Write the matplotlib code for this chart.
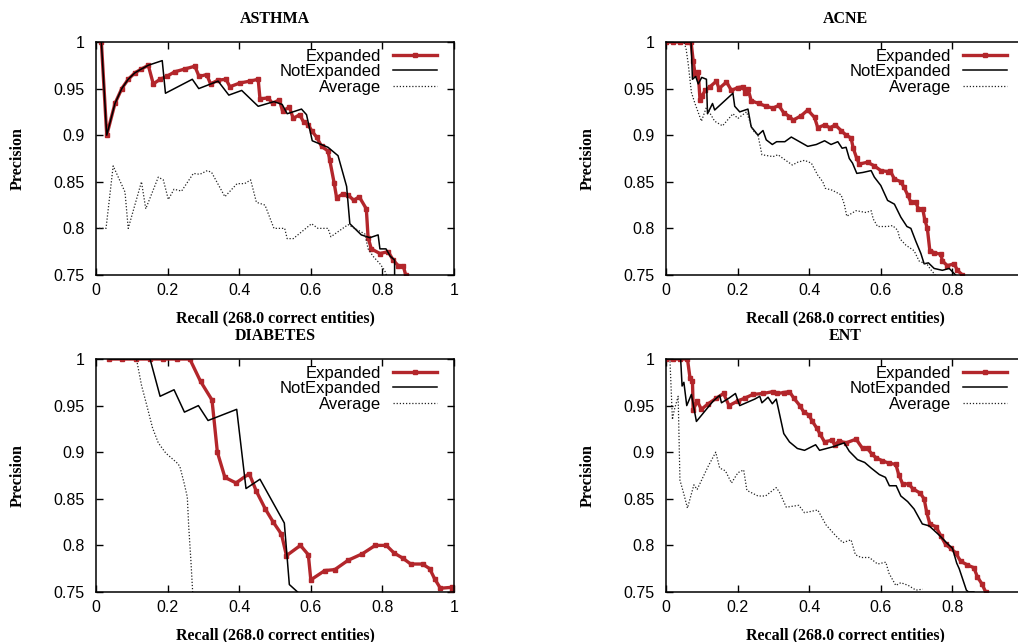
import numpy as np
import matplotlib
matplotlib.use("Agg")
import matplotlib.pyplot as plt

# ---- data (recall, precision) ----
asthma_exp_x = [0.015, 0.03, 0.053, 0.072, 0.09, 0.109, 0.127, 0.146, 0.16, 0.179, 0.197, 0.22, 0.248,
                0.276, 0.288, 0.309, 0.32, 0.341, 0.363, 0.374, 0.402, 0.43, 0.453, 0.458, 0.481, 0.493,
                0.512, 0.521, 0.54, 0.551, 0.569, 0.58, 0.593, 0.602, 0.616, 0.63, 0.648, 0.653, 0.665,
                0.672, 0.69, 0.704, 0.72, 0.735, 0.755, 0.76, 0.769, 0.793, 0.816, 0.83, 0.844, 0.858, 0.865]
asthma_exp_y = [1.0, 0.9, 0.934, 0.95, 0.96, 0.967, 0.971, 0.975, 0.955, 0.96, 0.963, 0.968, 0.971,
                0.974, 0.963, 0.965, 0.955, 0.959, 0.96, 0.952, 0.956, 0.958, 0.96, 0.939, 0.94, 0.934,
                0.938, 0.926, 0.93, 0.918, 0.922, 0.914, 0.911, 0.905, 0.898, 0.888, 0.883, 0.873, 0.849,
                0.833, 0.837, 0.836, 0.83, 0.834, 0.821, 0.79, 0.778, 0.773, 0.775, 0.766, 0.76, 0.76, 0.75]
asthma_not_x = [0.015, 0.03, 0.053, 0.072, 0.09, 0.109, 0.127, 0.146, 0.185, 0.194, 0.269, 0.287, 0.341,
                0.371, 0.407, 0.453, 0.497, 0.52, 0.534, 0.574, 0.588, 0.604, 0.648, 0.676, 0.7, 0.709,
                0.741, 0.765, 0.788, 0.793, 0.81, 0.822, 0.834, 0.834]
asthma_not_y = [1.0, 0.9, 0.934, 0.95, 0.96, 0.967, 0.971, 0.975, 0.98, 0.945, 0.96, 0.95, 0.958,
                0.943, 0.948, 0.931, 0.936, 0.933, 0.923, 0.928, 0.922, 0.894, 0.887, 0.878, 0.845, 0.805,
                0.793, 0.79, 0.793, 0.778, 0.778, 0.77, 0.766, 0.75]
asthma_avg_x = [0.0, 0.028, 0.048, 0.081, 0.09, 0.127, 0.139, 0.174, 0.188, 0.202, 0.218, 0.239, 0.272,
                0.29, 0.311, 0.323, 0.36, 0.394, 0.415, 0.432, 0.448, 0.472, 0.497, 0.527, 0.534, 0.551,
                0.602, 0.62, 0.648, 0.656, 0.704, 0.751, 0.76, 0.774, 0.793, 0.806, 0.811]
asthma_avg_y = [0.8, 0.8, 0.867, 0.839, 0.8, 0.85, 0.821, 0.855, 0.852, 0.831, 0.842, 0.84, 0.859,
                0.858, 0.862, 0.86, 0.834, 0.848, 0.848, 0.852, 0.828, 0.825, 0.8, 0.8, 0.789, 0.789,
                0.805, 0.8, 0.8, 0.791, 0.804, 0.794, 0.778, 0.77, 0.762, 0.755, 0.75]

acne_exp_x = [0.0, 0.02, 0.04, 0.06, 0.07, 0.076, 0.081, 0.09, 0.095, 0.1, 0.11, 0.123, 0.141, 0.148,
              0.169, 0.183, 0.2, 0.215, 0.222, 0.229, 0.238, 0.259, 0.28, 0.299, 0.315, 0.329, 0.345,
              0.355, 0.378, 0.396, 0.415, 0.424, 0.443, 0.458, 0.473, 0.489, 0.503, 0.517, 0.523, 0.533,
              0.54, 0.563, 0.582, 0.6, 0.619, 0.626, 0.638, 0.656, 0.665, 0.675, 0.684, 0.698, 0.705,
              0.717, 0.723, 0.73, 0.737, 0.749, 0.768, 0.772, 0.786, 0.805, 0.814, 0.828]
acne_exp_y = [1.0, 1.0, 1.0, 1.0, 1.0, 0.98, 0.966, 0.968, 0.938, 0.942, 0.948, 0.952, 0.958, 0.95,
              0.957, 0.948, 0.951, 0.952, 0.945, 0.95, 0.937, 0.934, 0.931, 0.929, 0.932, 0.924, 0.92,
              0.916, 0.921, 0.927, 0.919, 0.908, 0.911, 0.908, 0.911, 0.905, 0.9, 0.897, 0.886, 0.875,
              0.869, 0.871, 0.867, 0.862, 0.861, 0.862, 0.853, 0.85, 0.844, 0.836, 0.828, 0.828, 0.821,
              0.821, 0.809, 0.8, 0.776, 0.774, 0.772, 0.765, 0.76, 0.762, 0.755, 0.75]
acne_not_x = [0.0, 0.07, 0.074, 0.083, 0.09, 0.1, 0.113, 0.116, 0.13, 0.136, 0.187, 0.192, 0.206, 0.229,
              0.238, 0.257, 0.271, 0.28, 0.297, 0.309, 0.332, 0.35, 0.373, 0.396, 0.42, 0.443, 0.461,
              0.48, 0.492, 0.503, 0.512, 0.521, 0.533, 0.55, 0.573, 0.582, 0.6, 0.619, 0.638, 0.656,
              0.673, 0.684, 0.698, 0.712, 0.721, 0.733, 0.749, 0.772, 0.791, 0.809]
acne_not_y = [1.0, 1.0, 0.96, 0.963, 0.955, 0.962, 0.96, 0.923, 0.934, 0.927, 0.945, 0.931, 0.925, 0.928,
              0.909, 0.9, 0.905, 0.895, 0.89, 0.893, 0.893, 0.898, 0.893, 0.888, 0.89, 0.894, 0.89,
              0.893, 0.886, 0.887, 0.875, 0.87, 0.859, 0.86, 0.862, 0.855, 0.846, 0.83, 0.826, 0.812,
              0.802, 0.8, 0.786, 0.773, 0.762, 0.763, 0.757, 0.755, 0.757, 0.75]
acne_avg_x = [0.0, 0.05, 0.056, 0.062, 0.071, 0.081, 0.099, 0.113, 0.136, 0.158, 0.187, 0.201, 0.225,
              0.243, 0.257, 0.268, 0.299, 0.313, 0.327, 0.353, 0.368, 0.387, 0.406, 0.424, 0.438, 0.445,
              0.464, 0.489, 0.498, 0.505, 0.531, 0.559, 0.573, 0.579, 0.591, 0.619, 0.633, 0.647, 0.653,
              0.67, 0.693, 0.707, 0.73, 0.739, 0.752]
acne_avg_y = [1.0, 1.0, 0.993, 0.977, 0.946, 0.934, 0.915, 0.93, 0.915, 0.91, 0.923, 0.918, 0.925,
              0.905, 0.9, 0.879, 0.877, 0.879, 0.875, 0.868, 0.871, 0.873, 0.87, 0.857, 0.85, 0.843,
              0.841, 0.836, 0.826, 0.813, 0.819, 0.817, 0.819, 0.81, 0.802, 0.802, 0.803, 0.798, 0.789,
              0.782, 0.776, 0.765, 0.761, 0.756, 0.75]

diab_exp_x = [0.037, 0.074, 0.113, 0.151, 0.188, 0.225, 0.262, 0.292, 0.324, 0.339, 0.36, 0.391, 0.428,
              0.448, 0.473, 0.495, 0.518, 0.532, 0.571, 0.593, 0.6, 0.639, 0.667, 0.704, 0.744, 0.78,
              0.811, 0.832, 0.858, 0.879, 0.912, 0.932, 0.946, 0.962, 0.993, 0.993]
diab_exp_y = [1.0, 1.0, 1.0, 1.0, 1.0, 1.0, 1.0, 0.976, 0.956, 0.9, 0.873, 0.867, 0.877,
              0.858, 0.839, 0.825, 0.812, 0.789, 0.8, 0.79, 0.763, 0.773, 0.774, 0.784, 0.791, 0.8,
              0.8, 0.792, 0.786, 0.78, 0.78, 0.775, 0.764, 0.754, 0.755, 0.75]
diab_not_x = [0.037, 0.151, 0.179, 0.218, 0.247, 0.286, 0.313, 0.393, 0.419, 0.458, 0.526, 0.54, 0.563]
diab_not_y = [1.0, 1.0, 0.96, 0.967, 0.943, 0.95, 0.934, 0.946, 0.861, 0.871, 0.824, 0.758, 0.75]
diab_avg_x = [0.037, 0.113, 0.127, 0.14, 0.158, 0.174, 0.195, 0.225, 0.234, 0.246, 0.255, 0.259, 0.265, 0.27]
diab_avg_y = [1.0, 1.0, 0.972, 0.953, 0.926, 0.91, 0.899, 0.889, 0.885, 0.867, 0.852, 0.82, 0.784, 0.75]

ent_exp_x = [0.0, 0.02, 0.04, 0.06, 0.067, 0.074, 0.076, 0.087, 0.099, 0.118, 0.141, 0.161, 0.176, 0.201,
             0.22, 0.243, 0.271, 0.299, 0.311, 0.329, 0.345, 0.357, 0.374, 0.385, 0.399, 0.409, 0.421,
             0.431, 0.443, 0.464, 0.471, 0.484, 0.503, 0.531, 0.549, 0.563, 0.575, 0.587, 0.603, 0.624,
             0.642, 0.65, 0.661, 0.678, 0.689, 0.71, 0.721, 0.728, 0.737, 0.754, 0.768, 0.781, 0.795,
             0.809, 0.823, 0.842, 0.86, 0.87, 0.882, 0.893]
ent_exp_y = [1.0, 1.0, 1.0, 1.0, 0.98, 0.976, 0.945, 0.955, 0.946, 0.952, 0.958, 0.963, 0.95, 0.955,
             0.958, 0.962, 0.963, 0.965, 0.963, 0.964, 0.965, 0.958, 0.95, 0.943, 0.94, 0.933, 0.926,
             0.919, 0.911, 0.913, 0.908, 0.912, 0.91, 0.914, 0.904, 0.904, 0.898, 0.894, 0.891, 0.888,
             0.887, 0.876, 0.866, 0.866, 0.861, 0.856, 0.85, 0.836, 0.823, 0.82, 0.81, 0.801, 0.797,
             0.792, 0.783, 0.779, 0.776, 0.766, 0.759, 0.75]
ent_not_x = [0.0, 0.041, 0.045, 0.05, 0.058, 0.071, 0.085, 0.1, 0.132, 0.15, 0.155, 0.176, 0.194, 0.206,
             0.248, 0.262, 0.268, 0.285, 0.297, 0.308, 0.316, 0.329, 0.345, 0.367, 0.387, 0.418, 0.429,
             0.468, 0.498, 0.512, 0.535, 0.555, 0.573, 0.596, 0.613, 0.624, 0.643, 0.656, 0.675, 0.693,
             0.716, 0.735, 0.763, 0.786, 0.8, 0.812, 0.819, 0.839, 0.845, 0.86]
ent_not_y = [1.0, 1.0, 0.971, 0.975, 0.95, 0.962, 0.933, 0.94, 0.955, 0.961, 0.953, 0.958, 0.963, 0.95,
             0.957, 0.96, 0.953, 0.959, 0.952, 0.957, 0.943, 0.92, 0.911, 0.904, 0.902, 0.908, 0.902,
             0.906, 0.91, 0.901, 0.892, 0.889, 0.883, 0.876, 0.873, 0.864, 0.864, 0.853, 0.847, 0.839,
             0.823, 0.821, 0.811, 0.802, 0.797, 0.781, 0.775, 0.752, 0.75, 0.75]
ent_avg_x = [0.0, 0.011, 0.018, 0.023, 0.034, 0.039, 0.05, 0.06, 0.078, 0.087, 0.118, 0.139, 0.15, 0.166,
             0.183, 0.201, 0.217, 0.226, 0.257, 0.278, 0.308, 0.317, 0.336, 0.371, 0.387, 0.424, 0.447,
             0.475, 0.494, 0.517, 0.529, 0.545, 0.568, 0.591, 0.614, 0.623, 0.642, 0.656, 0.677, 0.698, 0.717]
ent_avg_y = [1.0, 1.0, 0.935, 0.945, 0.96, 0.87, 0.855, 0.84, 0.865, 0.86, 0.885, 0.9, 0.883, 0.88,
             0.867, 0.878, 0.881, 0.859, 0.853, 0.853, 0.862, 0.857, 0.841, 0.843, 0.835, 0.838, 0.822,
             0.81, 0.803, 0.806, 0.79, 0.787, 0.787, 0.78, 0.782, 0.77, 0.757, 0.76, 0.757, 0.752, 0.753]

x_ticklabels = ["0", "0.2", "0.4", "0.6", "0.8", "1"]
y_ticklabels = ["0.75", "0.8", "0.85", "0.9", "0.95", "1"]

panels = [
    ("ASTHMA", asthma_exp_x, asthma_exp_y, asthma_not_x, asthma_not_y, asthma_avg_x, asthma_avg_y),
    ("ACNE", acne_exp_x, acne_exp_y, acne_not_x, acne_not_y, acne_avg_x, acne_avg_y),
    ("DIABETES", diab_exp_x, diab_exp_y, diab_not_x, diab_not_y, diab_avg_x, diab_avg_y),
    ("ENT", ent_exp_x, ent_exp_y, ent_not_x, ent_not_y, ent_avg_x, ent_avg_y),
]

# axes boxes in figure fractions (right column runs off the page, like the source)
boxes = [
    [0.0943, 0.5717, 0.3517, 0.3629],
    [0.6542, 0.5717, 0.3517, 0.3629],
    [0.0943, 0.0779, 0.3517, 0.3629],
    [0.6542, 0.0779, 0.3517, 0.3629],
]

red = "#b3262b"
sans = ["Liberation Sans", "DejaVu Sans"]
serif = ["Liberation Serif", "DejaVu Serif"]
fs = 11.5

fig = plt.figure(figsize=(10.18, 6.42), dpi=100)

for (name, ex, ey, nx, ny, ax_, ay), box in zip(panels, boxes):
    right_col = box[0] > 0.5
    ax = fig.add_axes(box)
    ax.plot(ex, ey, color=red, lw=2.4, marker="s", ms=2.6, mec=red, mfc=red, label="Expanded")
    ax.plot(nx, ny, color="black", lw=1.1, label="NotExpanded")
    ax.plot(ax_, ay, color="#222222", lw=0.9, ls=(0, (1, 1.5)), label="Average")
    ax.set_xlim(0, 1)
    ax.set_ylim(0.75, 1)
    ax.set_xticks(np.arange(0, 1.01, 0.2))
    # the page edge cuts the last label off on the right column
    ax.set_xticklabels(x_ticklabels[:-1] + [""] if right_col else x_ticklabels)
    ax.set_yticks(np.arange(0.75, 1.001, 0.05))
    ax.set_yticklabels(y_ticklabels)
    ax.tick_params(direction="in", length=5, width=1, top=True, right=not right_col, labelsize=fs)
    ax.tick_params(axis="x", pad=6)
    ax.tick_params(axis="y", pad=8)
    for lab in ax.get_xticklabels() + ax.get_yticklabels():
        lab.set_family(sans)
    for s in ax.spines.values():
        s.set_linewidth(1.1)
    ax.set_title(name, fontsize=fs, fontweight="bold", family=serif, pad=14)
    ax.set_xlabel("Recall (268.0 correct entities)", fontsize=fs, fontweight="bold", family=serif, labelpad=9)
    ax.set_ylabel("Precision", fontsize=fs, fontweight="bold", family=serif, labelpad=20)
    ax.legend(loc="upper right", bbox_to_anchor=(0.97, 1.0), frameon=False, markerfirst=False,
              handlelength=2.6, handletextpad=0.75, labelspacing=0.03, borderaxespad=0,
              prop={"family": sans, "size": 12}, numpoints=1)

fig.savefig("out.png", dpi=100)
